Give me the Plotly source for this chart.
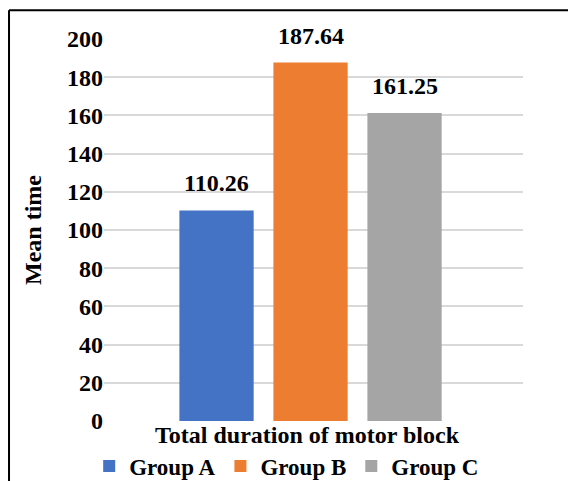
import plotly.graph_objects as go

groups = ["Group A", "Group B", "Group C"]
mean_time = [110.26, 187.64, 161.25]
colors = ["#4472C4", "#ED7D31", "#A5A5A5"]
y_ticks = list(range(0, 201, 20))
x_title = "Total duration of motor block"
y_title = "Mean time"

FONT = "Liberation Serif"
BOLD = dict(family=FONT, color="#000000", weight="bold")

fig = go.Figure()
for g, v, c in zip(groups, mean_time, colors):
    fig.add_trace(go.Bar(x=[g], y=[v], name=g, marker_color=c,
                         marker_line_width=0, width=0.79))

for g, v in zip(groups, mean_time):
    fig.add_annotation(x=g, y=v, text=f"{v:.2f}", showarrow=False,
                       yanchor="middle", yshift=27,
                       font=dict(**BOLD, size=24))

# axis titles
fig.add_annotation(xref="paper", yref="paper", x=0.4845, y=-0.0366,
                   text=x_title, showarrow=False, xanchor="center", yanchor="middle",
                   font=dict(**BOLD, size=24))
fig.add_annotation(xref="paper", yref="paper", x=-0.1695, y=0.5,
                   text=y_title, showarrow=False, textangle=-90,
                   xanchor="center", yanchor="middle",
                   font=dict(**BOLD, size=24))

fig.update_layout(
    width=568, height=473,
    margin=dict(l=96, r=53, t=31, b=60, autoexpand=False),
    paper_bgcolor="white", plot_bgcolor="white",
    barmode="relative",
    showlegend=True,
    legend=dict(orientation="h", x=0.436, xanchor="center", y=-0.118, yanchor="middle",
                font=dict(**BOLD, size=23),
                itemwidth=30, traceorder="normal"),
    shapes=[
        dict(type="line", xref="paper", yref="paper", x0=-0.2267, x1=-0.2267,
             y0=1.075, y1=-0.3, line=dict(color="black", width=2)),
        dict(type="line", xref="paper", yref="paper", x0=-0.2267, x1=1.117,
             y0=1.075, y1=1.075, line=dict(color="black", width=2)),
    ],
)
fig.update_xaxes(range=[-1.197, 3.26], showticklabels=False, showgrid=False,
                 zeroline=False, showline=False)
fig.update_yaxes(range=[0, 200], tickvals=y_ticks,
                 tickfont=dict(**BOLD, size=24),
                 showgrid=True, gridcolor="#D9D9D9", gridwidth=1.5,
                 zeroline=False, showline=False, ticks="")

fig.write_html("out.html")
